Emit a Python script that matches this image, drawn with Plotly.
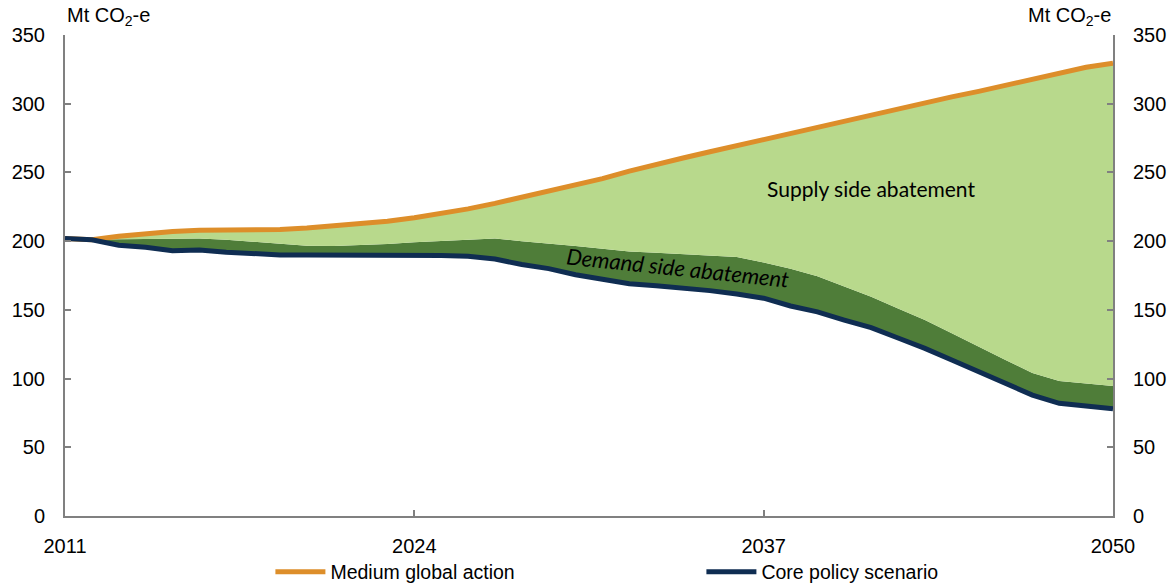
import plotly.graph_objects as go

years = list(range(2011, 2051))
core_policy = [202, 201, 197, 195.5, 193, 193.5, 192, 190.7, 190, 190, 190, 190, 190, 190, 189.5,
               189, 187, 183, 180, 175.5, 172, 169, 167.5, 166, 164, 161.5, 158.5, 152.8, 148.5,
               142.6, 137, 129.5, 122, 113.5, 105, 96.6, 88, 82, 80, 78]
demand_top = [202, 201, 201.4, 201.5, 201.5, 202, 201, 199.6, 198, 196.7, 196.5, 197, 198, 199.2, 200.2,
              201, 202, 200, 198.5, 196.5, 194.5, 192.5, 191.5, 190.5, 189.5, 188.5, 184.5, 180, 174.5,
              167, 159.6, 151, 142.6, 133, 123, 113.5, 104, 98.3, 96.5, 94.6]
medium_global = [202, 201, 203.6, 205.5, 207, 208, 208, 208, 208.5, 209.5, 211, 212.5, 214.5, 217, 220,
                 223.5, 227.5, 232, 236.5, 241, 245.5, 251, 256, 260.5, 265, 269.5, 274, 278.5, 282.5,
                 287, 291.5, 296, 300.5, 305, 309, 313.5, 318, 322.5, 326.5, 329.5]
x_ticks = [2011, 2024, 2037, 2050]
y_ticks = [0, 50, 100, 150, 200, 250, 300, 350]

ORANGE = "#DD8E2A"
NAVY = "#0F2D52"
LIGHT = "#B8D98C"
DARK = "#4F7D39"
GRAY = "#808080"
FONT = "Liberation Sans, Arial, sans-serif"

fig = go.Figure()
fig.add_trace(go.Scatter(x=years, y=core_policy, mode="lines", line=dict(color=NAVY, width=0),
                         showlegend=False, hoverinfo="skip"))
fig.add_trace(go.Scatter(x=years, y=demand_top, mode="lines", line=dict(color=DARK, width=0),
                         fill="tonexty", fillcolor=DARK, showlegend=False, hoverinfo="skip"))
fig.add_trace(go.Scatter(x=years, y=medium_global, mode="lines", line=dict(color=LIGHT, width=0),
                         fill="tonexty", fillcolor=LIGHT, showlegend=False, hoverinfo="skip"))
fig.add_trace(go.Scatter(x=years, y=medium_global, mode="lines", name="Medium global action",
                         line=dict(color=ORANGE, width=5)))
fig.add_trace(go.Scatter(x=years, y=core_policy, mode="lines", name="Core policy scenario",
                         line=dict(color=NAVY, width=5)))
fig.add_trace(go.Scatter(x=years, y=core_policy, yaxis="y2", mode="lines", line=dict(width=0),
                         showlegend=False, hoverinfo="skip"))

axis_common = dict(showgrid=False, zeroline=False, showline=True, linecolor=GRAY, linewidth=2,
                   ticks="inside", ticklen=6, tickwidth=2, tickcolor=GRAY,
                   tickfont=dict(family=FONT, size=20, color="black"))

fig.update_layout(
    width=1175, height=584,
    margin=dict(l=65, r=62, t=35, b=68, autoexpand=False),
    plot_bgcolor="white", paper_bgcolor="white",
    font=dict(family=FONT, size=18, color="black"),
    xaxis=dict(**axis_common, range=[2011, 2050], tickvals=x_ticks, ticktext=[str(v) for v in x_ticks],
               ticklabelstandoff=11),
    yaxis=dict(**axis_common, range=[0, 350], tickvals=y_ticks, ticklabelstandoff=14),
    yaxis2=dict(**axis_common, range=[0, 350], tickvals=y_ticks, overlaying="y", side="right",
                ticklabelstandoff=14),
    showlegend=True,
    legend=dict(orientation="h", x=0.196, xanchor="left", y=-0.076, yanchor="top",
                traceorder="normal", entrywidth=366, entrywidthmode="pixels", itemwidth=50,
                font=dict(family=FONT, size=19.5, color="black"), bgcolor="rgba(0,0,0,0)"),
    annotations=[
        dict(text="Mt CO<sub>2</sub>-e", xref="paper", yref="paper", x=0, y=1, xanchor="left",
             yanchor="bottom", showarrow=False, font=dict(family=FONT, size=20), yshift=4),
        dict(text="Mt CO<sub>2</sub>-e", xref="paper", yref="paper", x=1, y=1, xanchor="right",
             yanchor="bottom", showarrow=False, font=dict(family=FONT, size=20), yshift=4),
        dict(text="Supply side abatement", x=2041.0, y=238.5, xref="x", yref="y", showarrow=False,
             font=dict(family="Lato, sans-serif", size=21, color="black")),
        dict(text="<i>Demand side abatement</i>", x=2033.8, y=181, xref="x", yref="y", showarrow=False,
             textangle=6, font=dict(family="Lato, sans-serif", size=22, color="black")),
    ],
)

fig.write_html("out.html", config={"displayModeBar": False},
               post_script="document.body.style.margin='0';document.body.style.overflow='hidden';")
